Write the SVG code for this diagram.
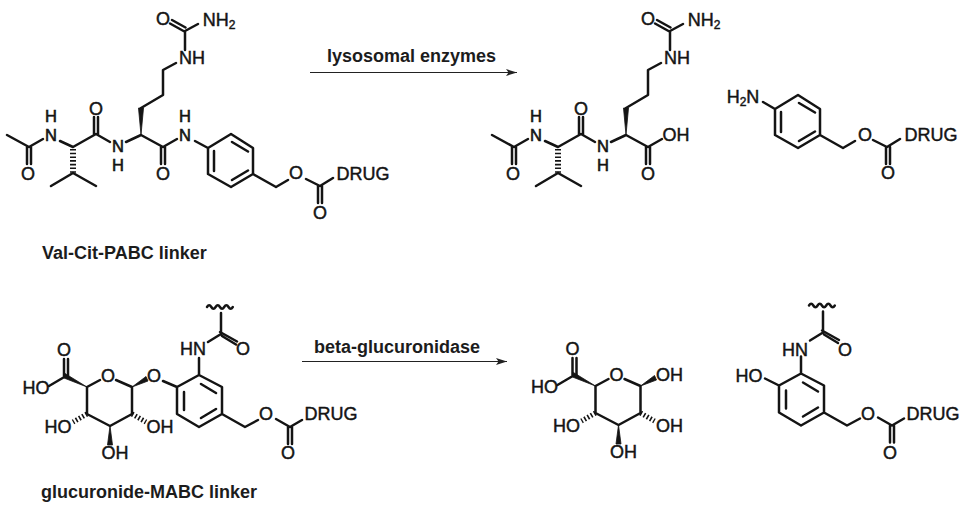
<svg xmlns="http://www.w3.org/2000/svg" width="970" height="506" viewBox="0 0 970 506">
<defs>
<style>
.b{fill:none;stroke:#141414;stroke-width:2.5;stroke-linecap:round;stroke-linejoin:round}
.w{fill:#141414;stroke:#141414;stroke-width:.8;stroke-linejoin:round}
.h{fill:none;stroke:#141414;stroke-dasharray:1.6 2.1}
.a{font-family:"Liberation Sans",Arial,sans-serif;font-size:18px;fill:#141414;stroke:#141414;stroke-width:.45;text-anchor:middle}
.n{font-size:16.5px;stroke-width:.6}
.s{font-size:12px}
.l{font-family:"Liberation Sans",Arial,sans-serif;font-size:18px;font-weight:bold;fill:#1c1c1c}
.r{fill:none;stroke:#222;stroke-width:1.2}
</style>
<marker id="ah" markerUnits="userSpaceOnUse" markerWidth="12" markerHeight="8" refX="11" refY="3.500" orient="auto"><path d="M0 0L11 3.500L0 7L2.500 3.500Z" fill="#222"/></marker>
</defs>
<g id="connectors">
<path class="r" d="M310 72.500H517" marker-end="url(#ah)"/>
<path class="r" d="M302 361.500H507" marker-end="url(#ah)"/>
</g>
<g id="val-cit-pabc">
<path class="b" d="M7 135L29 147L43 139M27 147V164M31 147V164M60 141L73 147L96 134L110 142M94 134V117M98 134V117M126 142L141 135L163 147L177 139M161 147V164M165 147V164M141 108L163 95V70L176 63M185 50V31L198 24M183.500 31L170 23.500M185.500 27.500L172 20M195 141L208 148L231 134L253 148V174L231 187L208 174V148M214 151V171M232 142L248 151.500M232 180L248 170.500M253 174L276 187L288 180M306 179L320 186L333 178M318 186V203M322 186V203M73 173L51 186M73 173L96 186"/>
<path class="w" d="M141 135L138.500 108H143.500Z"/>
<path class="h" d="M73 149V173" style="stroke-width:6"/>
<text class="a" x="28" y="180">O</text><text class="a n" x="51" y="141">N</text><text class="a n" x="51" y="122">H</text>
<text class="a" x="96" y="115">O</text><text class="a n" x="118" y="152">N</text><text class="a n" x="118" y="171">H</text>
<text class="a" x="163" y="180">O</text><text class="a n" x="185" y="141">N</text><text class="a n" x="185" y="122">H</text>
<text class="a" x="192" y="64">NH</text><text class="a" x="163" y="25">O</text>
<text class="a" x="219" y="26">NH<tspan class="s" dy="3">2</tspan></text>
<text class="a" x="296" y="179">O</text><text class="a" x="363" y="180">DRUG</text><text class="a" x="320" y="219">O</text>
</g>
<g id="val-cit-acid" transform="translate(485,0)">
<path class="b" d="M7 135L29 147L43 139M27 147V164M31 147V164M60 141L73 147L96 134L110 142M94 134V117M98 134V117M126 142L141 135L163 147L177 139M161 147V164M165 147V164M141 108L163 95V70L176 63M185 50V31L198 24M183.500 31L170 23.500M185.500 27.500L172 20M73 173L51 186M73 173L96 186"/>
<path class="w" d="M141 135L138.500 108H143.500Z"/>
<path class="h" d="M73 149V173" style="stroke-width:6"/>
<text class="a" x="28" y="180">O</text><text class="a n" x="51" y="141">N</text><text class="a n" x="51" y="122">H</text>
<text class="a" x="96" y="115">O</text><text class="a n" x="118" y="152">N</text><text class="a n" x="118" y="171">H</text>
<text class="a" x="163" y="180">O</text><text class="a" x="191" y="141">OH</text>
<text class="a" x="192" y="64">NH</text><text class="a" x="163" y="25">O</text>
<text class="a" x="219" y="26">NH<tspan class="s" dy="3">2</tspan></text>
</g>
<g id="pabc-drug" transform="translate(567,-39)">
<path class="b" d="M196 141L208 148L231 134L253 148V174L231 187L208 174V148M214 151V171M232 142L248 151.500M232 180L248 170.500M253 174L276 187L288 180M306 179L320 186L333 178M319 186V203M323 186V203"/>
<text class="a" x="176" y="142">H<tspan class="s" dy="3">2</tspan><tspan dy="-3">N</tspan></text>
<text class="a" x="298" y="180">O</text><text class="a" x="364" y="180">DRUG</text><text class="a" x="321" y="218">O</text>
</g>
<g id="glucuronide-sugar">
<path class="b" d="M100 380L87 387V414L110 426L132 414V387L116 380M64 376V359M68 376V359M66 376L49 386"/>
<path class="w" d="M87 387L65 373.500L64 378ZM132 387L146 376.500L148 381ZM110 426L107.500 445H112.500Z"/>
<path class="h" d="M87 414L73 422M132 414L146 422" style="stroke-width:5"/>
<text class="a" x="64" y="356">O</text><text class="a" x="108" y="382">O</text>
<text class="a" x="36" y="394">HO</text><text class="a" x="58" y="433">HO</text><text class="a" x="160" y="433">OH</text><text class="a" x="115" y="459">OH</text>
</g>
<g id="glucuronide-mabc">
<path class="b" d="M163 381L177 387L199 375L222 387V414L199 427L177 414V387M184 392V410M201 384L216 393M201 418L216 409M199 375V358M208 342L221 334V313M220 332L237 341.500M222 336L236 344.500M222 414L245 427L258 420M276 419L290 427L302 420M288 427V444M292 427V444"/>
<path class="b" d="M207 307q2.200-3.500 4.300 0t4.300 0t4.300 0t4.300 0t4.300 0t4.300 0"/>
<text class="a" x="193" y="355">HN</text><text class="a" x="154" y="382">O</text><text class="a" x="243" y="355">O</text>
<text class="a" x="266" y="420">O</text><text class="a" x="331" y="420">DRUG</text><text class="a" x="288" y="459">O</text>
</g>
<g id="free-sugar" transform="translate(508.500,-1)">
<path class="b" d="M100 380L87 387V414L110 426L132 414V387L116 380M64 376V359M68 376V359M66 376L49 386"/>
<path class="w" d="M87 387L65 373.500L64 378ZM132 387L146 376.500L148 381ZM110 426L107.500 445H112.500Z"/>
<path class="h" d="M87 414L73 422M132 414L146 422" style="stroke-width:5"/>
<text class="a" x="64" y="356">O</text><text class="a" x="108" y="382">O</text>
<text class="a" x="36" y="394">HO</text><text class="a" x="58" y="433">HO</text><text class="a" x="161" y="433">OH</text><text class="a" x="115" y="459">OH</text><text class="a" x="161" y="382">OH</text>
</g>
<g id="hydroxy-mabc" transform="translate(602,-1.500)">
<path class="b" d="M163 380L177 387L199 375L222 387V414L199 427L177 414V387M184 392V410M201 384L216 393M201 418L216 409M199 375V358M208 342L221 334V313M220 332L237 341.500M222 336L236 344.500M222 414L245 427L258 420M276 419L290 427L302 420M288 427V444M292 427V444"/>
<path class="b" d="M207 307q2.200-3.500 4.300 0t4.300 0t4.300 0t4.300 0t4.300 0t4.300 0"/>
<text class="a" x="147" y="383">HO</text><text class="a" x="193" y="357">HN</text><text class="a" x="243" y="357">O</text>
<text class="a" x="266" y="421">O</text><text class="a" x="331" y="421">DRUG</text><text class="a" x="288" y="460">O</text>
</g>
<text class="l" x="42" y="259">Val-Cit-PABC linker</text>
<text class="l" x="41" y="498">glucuronide-MABC linker</text>
<text class="l" x="327" y="62">lysosomal enzymes</text>
<text class="l" x="314" y="353">beta-glucuronidase</text>
</svg>
